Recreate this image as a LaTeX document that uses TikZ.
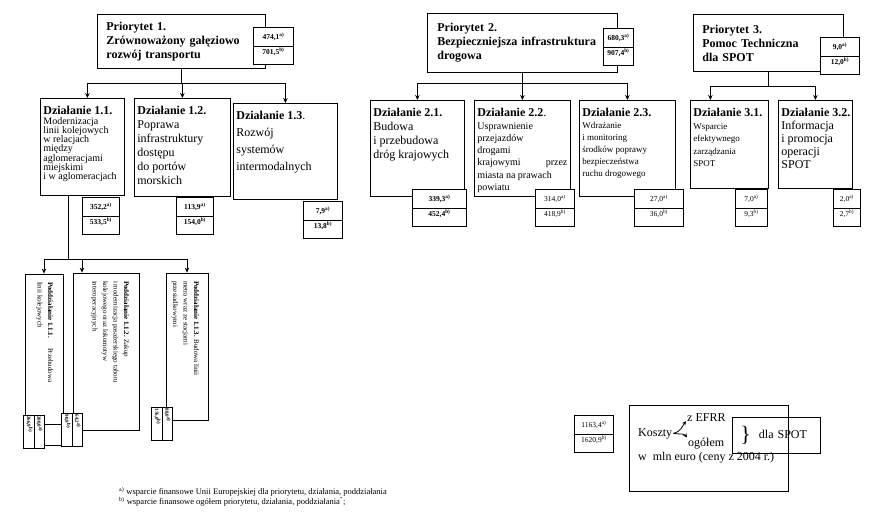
\documentclass[tikz,border=0pt]{standalone}
\usepackage{fontspec}
\setmainfont{Liberation Serif}
\usetikzlibrary{arrows.meta,shapes.multipart}
\newcommand{\upcell}{\rule[-5pt]{0pt}{16pt}}
\newcommand{\dncell}{\rule[-8pt]{0pt}{15pt}}
\newcommand{\subcell}{\rule[-2pt]{0pt}{7pt}}
\tikzset{
    prio-box/.style = {draw, thick, rectangle, anchor=north west, inner xsep=9pt, inner ysep=0pt, align=left, font=\bfseries\fontsize{12}{14}\selectfont},
    act-box/.style = {draw, thick, rectangle, anchor=north west, inner xsep=3pt, inner ysep=8pt, font=\fontsize{12}{14}\selectfont},
    sum-box/.style = {draw, thick, fill=white, rectangle split, rectangle split parts=2, anchor=north west, inner xsep=1pt, inner ysep=1pt, align=center, font=\fontsize{7.5}{8}\selectfont},
    sum-bold/.style = {sum-box, font=\bfseries\fontsize{7.5}{8}\selectfont},
    sub-box/.style = {draw, thick, rectangle, rotate=-90, inner xsep=8pt, inner ysep=3pt, font=\fontsize{7}{10.5}\selectfont},
    sub-sum/.style = {draw, thick, fill=white, rectangle split, rectangle split parts=2, rotate=-90, inner xsep=1pt, inner ysep=1pt, text width=31pt, align=left, font=\bfseries\fontsize{5}{6}\selectfont},
    link/.style = {thick, -{Stealth[length=5pt,width=4.5pt]}},
    leg-text/.style = {anchor=base west, inner sep=0pt, font=\fontsize{12}{14}\selectfont},
}

\begin{document}
\begin{tikzpicture}[x=1pt, y=-1pt]
\useasboundingbox (0,0) rectangle (870,528);

% priorities
\node[prio-box, text width=150pt, minimum height=54pt] (p1) at (97,14) {Priorytet 1.\\ Zrównoważony gałęziowo\\ rozwój transportu};
\node[prio-box, inner xsep=10pt, text width=170pt, minimum height=59pt] (p2) at (427,13) {Priorytet 2.\\ \mbox{Bezpieczniejsza infrastruktura}\\ drogowa};
\node[prio-box, text width=132pt, minimum height=57pt] (p3) at (693,14) {Priorytet 3.\\ Pomoc Techniczna\\ dla SPOT};
\node[sum-bold, text width=38pt] (vp1) at (253,27) {\upcell 474,1\textsuperscript{a)}\nodepart{two}\dncell 701,5\textsuperscript{b)}};
\node[sum-bold, text width=28pt] (vp2) at (603,28) {\upcell 680,3\textsuperscript{a)}\nodepart{two}\dncell 907,4\textsuperscript{b)}};
\node[sum-bold, text width=37pt] (vp3) at (820,37) {\upcell 9,0\textsuperscript{a)}\nodepart{two}\dncell 12,0\textsuperscript{b)}};

% actions
\node[act-box] (d11) at (40,98) {\begin{minipage}[t][81pt][t]{78pt}\raggedright
    \textbf{Działanie 1.1.}\\
    {\fontsize{10}{9.3}\selectfont Modernizacja\\ linii kolejowych\\ w relacjach\\ między\\ aglomeracjami\\ miejskimi\\ i w aglomeracjach\par}
\end{minipage}};
\node[act-box] (d12) at (134,98) {\begin{minipage}[t][82pt][t]{90pt}\raggedright
    \textbf{Działanie 1.2.}\\ Poprawa\\ infrastruktury\\ dostępu\\ do portów\\ morskich
\end{minipage}};
\node[act-box] (d13) at (233,103) {\begin{minipage}[t][80pt][t]{98pt}\raggedright
    {\fontsize{12}{17}\selectfont \textbf{Działanie 1.3}.\\ Rozwój\\ systemów\\ intermodalnych\par}
\end{minipage}};
\node[act-box] (d21) at (370,100) {\begin{minipage}[t][80pt][t]{88pt}\raggedright
    \textbf{Działanie 2.1.}\\ Budowa\\ i przebudowa\\ dróg krajowych
\end{minipage}};
\node[act-box] (d22) at (474,100) {\begin{minipage}[t][80pt][t]{90pt}\raggedright
    \textbf{Działanie 2.2}.\\
    {\fontsize{10}{12.3}\selectfont Usprawnienie\\ przejazdów\\ drogami\\ krajowymi\hfill przez\\ miasta na prawach\\ powiatu\par}
\end{minipage}};
\node[act-box] (d23) at (579,100) {\begin{minipage}[t][80pt][t]{90pt}\raggedright
    \mbox{\textbf{Działanie 2.3.}}\\
    {\fontsize{9}{12}\selectfont Wdrażanie\\ i monitoring\\ środków poprawy\\ bezpieczeństwa\\ ruchu drogowego\par}
\end{minipage}};
\node[act-box] (d31) at (690,100) {\begin{minipage}[t][72pt][t]{72pt}\raggedright
    \mbox{\textbf{Działanie 3.1.}}\\
    {\fontsize{9}{12.5}\selectfont Wsparcie\\ efektywnego\\ zarządzania\\ SPOT\par}
\end{minipage}};
\node[act-box] (d32) at (778,100) {\begin{minipage}[t][72pt][t]{68pt}\raggedright
    {\fontsize{12}{13}\selectfont \mbox{\textbf{Działanie 3.2.}}\\ Informacja\\ i promocja\\ operacji\\ SPOT\par}
\end{minipage}};

\node[sum-bold, text width=35pt] (v11) at (82,197) {\upcell 352,2\textsuperscript{a)}\nodepart{two}\dncell 533,5\textsuperscript{b)}};
\node[sum-bold, text width=35pt] (v12) at (176,197) {\upcell 113,9\textsuperscript{a)}\nodepart{two}\dncell 154,0\textsuperscript{b)}};
\node[sum-bold, text width=37pt] (v13) at (303,201) {\upcell 7,9\textsuperscript{a)}\nodepart{two}\dncell 13,8\textsuperscript{b)}};
\node[sum-bold, text width=52pt] (v21) at (412,189) {\upcell 339,3\textsuperscript{a)}\nodepart{two}\dncell 452,4\textsuperscript{b)}};
\node[sum-box, text width=37pt] (v22) at (535,189) {\upcell 314,0\textsuperscript{a)}\nodepart{two}\dncell 418,9\textsuperscript{b)}};
\node[sum-box, text width=47pt] (v23) at (634,189) {\upcell 27,0\textsuperscript{a)}\nodepart{two}\dncell 36,0\textsuperscript{b)}};
\node[sum-box, text width=30pt] (v31) at (735,189) {\upcell 7,0\textsuperscript{a)}\nodepart{two}\dncell 9,3\textsuperscript{b)}};
\node[sum-box, text width=25pt] (v32) at (833,189) {\upcell 2,0\textsuperscript{a)}\nodepart{two}\dncell 2,7\textsuperscript{b)}};

% sub-actions (turned page)
\node[sub-box] (s111) at (44,359.5) {\begin{minipage}[t][32pt][t]{155pt}\raggedright
    \rule{0pt}{12pt}\textbf{Poddziałanie 1.1.1.}\hspace{10pt}Przebudowa\\ linii kolejowych
\end{minipage}};
\node[sub-box] (s112) at (106,351.5) {\begin{minipage}[t][60pt][t]{141pt}\raggedright
    \rule{0pt}{12pt}\textbf{Poddziałanie 1.1.2.} Zakup\\ i modernizacja pasażerskiego taboru\\ kolejowego oraz lokomotyw\\ interoperacyjnych
\end{minipage}};
\node[sub-box] (s113) at (187,346.5) {\begin{minipage}[t][36pt][t]{131pt}\raggedright
    \rule{0pt}{11pt}\textbf{Poddziałanie 1.1.3.} Budowa linii\\ metra wraz ze stacjami\\ przesiadkowymi
\end{minipage}};
\node[sub-sum] (vs111) at (34,431.5) {\subcell 200,0\textsuperscript{a)}\nodepart{two}\subcell 266,9\textsuperscript{b)}};
\node[sub-sum] (vs112) at (72,430) {\subcell 64,2\textsuperscript{a)}\nodepart{two}\subcell 90,9\textsuperscript{b)}};
\node[sub-sum] (vs113) at (162,424) {\subcell 88,0\textsuperscript{a)}\nodepart{two}\subcell 176,0\textsuperscript{b)}};

% connectors
\draw[thick] (p1.south) -- ++(0,15) coordinate (j1);
\draw[link] (j1) -| ([xshift=5pt]d11.north);
\draw[link] (j1) -| (d12.north);
\draw[link] (j1) -| (d13.north);
\draw[thick] (p2.south) -- ++(0,11) coordinate (j2);
\draw[link] (j2) -| (d21.north);
\draw[link] (j2) -| (d22.north);
\draw[link] (j2) -| (d23.north);
\draw[thick] (p3.south) -- ++(0,15) coordinate (j3);
\draw[link] (j3) -| ([xshift=-19pt]d31.north);
\draw[link] (j3) -| (d32.north);
\draw[thick] ([xshift=-14pt]d11.south) -- ++(0,64) coordinate (j4);
\draw[link] (j4) -| (s111.west);
\draw[link] (j4) -| ([xshift=-24pt]s112.west);
\draw[link] (j4) -| (s113.west);
\draw[thick] ([yshift=7pt]vs111.north) -- ([yshift=7pt]vs111.north -| vs112.south);

% legend
\node[draw, thick, anchor=north west, minimum width=159pt, minimum height=86pt] (leg) at (629,405) {};
\node[sum-box, text width=37pt] (vleg) at (574,415) {\upcell 1163,4\textsuperscript{a)}\nodepart{two}\dncell 1620,9\textsuperscript{b)}};
\node[leg-text] (koszty) at (638,436) {Koszty};
\node[leg-text] (efrr) at (687,421) {z EFRR};
\node[leg-text] (ogolem) at (688,446) {ogółem};
\node[leg-text] (jedn) at (638,460) {w \ mln euro (ceny z 2004 r.)};
\draw[thick, -{Stealth[length=4pt,width=4pt]}] ([xshift=1pt]koszty.east) .. controls +(7,-1) and +(-3,4) .. ([xshift=-1pt]efrr.south west);
\draw[thick, -{Stealth[length=4pt,width=4pt]}] ([xshift=1pt]koszty.east) .. controls +(7,1) and +(-3,-4) .. ([xshift=-1pt]ogolem.north west);
\node[draw, thick, anchor=north west, minimum width=88pt, minimum height=36pt, inner xsep=8pt, text width=72pt, align=left, font=\fontsize{12}{14}\selectfont] (spot) at (732,417) {\raisebox{-3pt}{\fontsize{22}{22}\selectfont\}}\hspace{8pt}dla SPOT};

% footnotes
\node[anchor=north west, align=left, inner sep=0pt, font=\fontsize{8.5}{10}\selectfont] (note) at (119,487) {\textsuperscript{a)} wsparcie finansowe Unii Europejskiej dla priorytetu, działania, poddziałania\\ \textsuperscript{b)} wsparcie finansowe ogółem priorytetu, działania, poddziałania\textsuperscript{''};};
\end{tikzpicture}
\end{document}
